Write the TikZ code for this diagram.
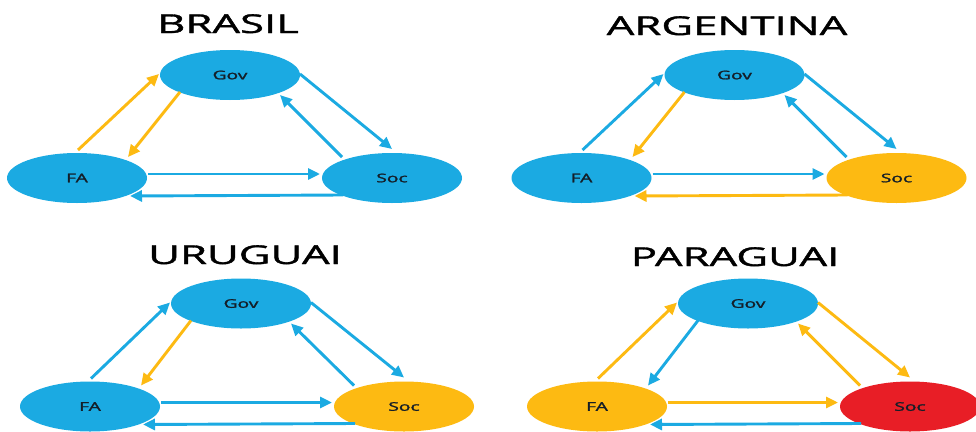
\documentclass[tikz,border=0pt]{standalone}
\usepackage{fontspec}
\setmainfont{Open Sans}
\newfontfamily\ttlfont[FakeBold=1.2]{Open Sans}
\newfontfamily\lblfont[FakeBold=1.6]{Open Sans}
\usetikzlibrary{shapes.geometric,arrows.meta,calc}
\definecolor{cblue}{RGB}{27,170,226}
\definecolor{cyel}{RGB}{253,186,18}
\definecolor{cred}{RGB}{232,30,38}
\definecolor{ctxt}{RGB}{20,30,40}
\newcommand\lwide[1]{\scalebox{1.6}[1]{#1}}
\newcommand\twide[1]{\scalebox{1.68}[1]{#1}}
\begin{document}
\begin{tikzpicture}[x=1pt,y=-1pt,
  ell/.style={ellipse, minimum width=140pt, minimum height=50pt, inner sep=0pt,
    font=\lblfont\fontsize{12}{12}\selectfont, text=ctxt},
  arr/.style={line width=2.9pt, -{Triangle[length=12pt,width=11pt]}},
  ttl/.style={anchor=base, inner sep=0pt, font=\ttlfont\fontsize{26}{26}\selectfont, text=black}]
\useasboundingbox[fill=white] (0,0) rectangle (976,431);

% ---------- BRASIL ----------
\node[ttl] (bT) at (228,33) {\twide{BRASIL}};
\node[ell, fill=cblue] (bG) at (230,75) {\lwide{Gov}};
\node[ell, fill=cblue] (bF) at ($(bG)+(-153,103)$) {\lwide{FA}};
\node[ell, fill=cblue] (bS) at ($(bG)+(162,103)$) {\lwide{Soc}};
\draw[arr, cyel]  ($(bF)+(1,-28)$)  -- ($(bG)+(-71,-1)$);
\draw[arr, cyel]  ($(bG)+(-50,17)$) -- ($(bF)+(51,-21)$);
\draw[arr, cblue] ($(bG)+(70,-1)$)  -- ($(bS)+(0,-29)$);
\draw[arr, cblue] ($(bS)+(-50,-21)$) -- ($(bG)+(50,20)$);
\draw[arr, cblue] ($(bF)+(71,-4)$)  -- ($(bS)+(-72,-4)$);
\draw[arr, cblue] ($(bS)+(-49,17)$) -- ($(bF)+(53,18)$);

% ---------- ARGENTINA ----------
\node[ttl] (aT) at (727,35) {\twide{ARGENTINA}};
\node[ell, fill=cblue] (aG) at (734.5,75) {\lwide{Gov}};
\node[ell, fill=cblue] (aF) at ($(aG)+(-153,103)$) {\lwide{FA}};
\node[ell, fill=cyel]  (aS) at ($(aG)+(162,103)$) {\lwide{Soc}};
\draw[arr, cblue] ($(aF)+(1,-28)$)  -- ($(aG)+(-71,-1)$);
\draw[arr, cyel]  ($(aG)+(-50,17)$) -- ($(aF)+(51,-21)$);
\draw[arr, cblue] ($(aG)+(70,-1)$)  -- ($(aS)+(0,-29)$);
\draw[arr, cblue] ($(aS)+(-50,-21)$) -- ($(aG)+(50,20)$);
\draw[arr, cblue] ($(aF)+(71,-4)$)  -- ($(aS)+(-72,-4)$);
\draw[arr, cyel]  ($(aS)+(-49,17)$) -- ($(aF)+(53,18)$);

% ---------- URUGUAI ----------
\node[ttl] (uT) at (245,264) {\twide{URUGUAI}};
\node[ell, fill=cblue] (uG) at (241,303.5) {\lwide{Gov}};
\node[ell, fill=cblue] (uF) at ($(uG)+(-151,103)$) {\lwide{FA}};
\node[ell, fill=cyel]  (uS) at ($(uG)+(163,103)$) {\lwide{Soc}};
\draw[arr, cblue] ($(uF)+(1,-28)$)  -- ($(uG)+(-71,-1)$);
\draw[arr, cyel]  ($(uG)+(-50,17)$) -- ($(uF)+(51,-21)$);
\draw[arr, cblue] ($(uG)+(70,-1)$)  -- ($(uS)+(0,-29)$);
\draw[arr, cblue] ($(uS)+(-50,-21)$) -- ($(uG)+(50,20)$);
\draw[arr, cblue] ($(uF)+(71,-4)$)  -- ($(uS)+(-72,-4)$);
\draw[arr, cblue] ($(uS)+(-49,17)$) -- ($(uF)+(53,18)$);

% ---------- PARAGUAI ----------
\node[ttl] (pT) at (735,266) {\twide{PARAGUAI}};
\node[ell, fill=cblue] (pG) at (748,303.5) {\lwide{Gov}};
\node[ell, fill=cyel]  (pF) at ($(pG)+(-151,103)$) {\lwide{FA}};
\node[ell, fill=cred]  (pS) at ($(pG)+(162,103)$) {\lwide{Soc}};
\draw[arr, cyel]  ($(pF)+(1,-28)$)  -- ($(pG)+(-71,-1)$);
\draw[arr, cblue] ($(pG)+(-50,17)$) -- ($(pF)+(51,-21)$);
\draw[arr, cyel]  ($(pG)+(70,-1)$)  -- ($(pS)+(0,-29)$);
\draw[arr, cyel]  ($(pS)+(-50,-21)$) -- ($(pG)+(50,20)$);
\draw[arr, cyel]  ($(pF)+(71,-4)$)  -- ($(pS)+(-72,-4)$);
\draw[arr, cblue] ($(pS)+(-49,17)$) -- ($(pF)+(53,18)$);
\end{tikzpicture}
\end{document}
